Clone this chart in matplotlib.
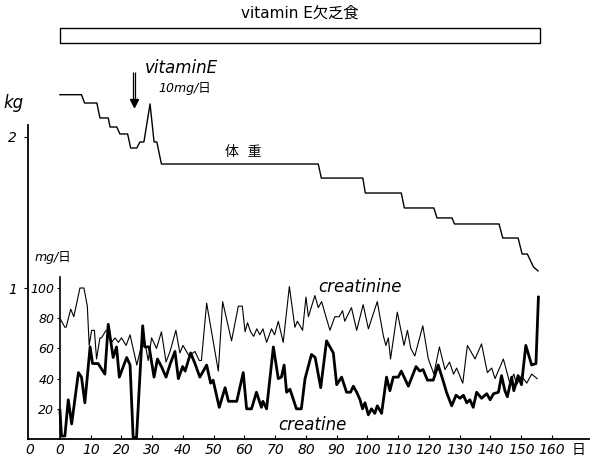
import numpy as np
import matplotlib
matplotlib.use('Agg')
import matplotlib.pyplot as plt
from matplotlib.patches import Rectangle

plt.rcParams['font.family'] = ['DejaVu Sans', 'Noto Sans CJK JP']

# body weight (kg), step line
weight_days = [0, 7, 8, 12, 13, 15.7, 16.3, 18.5, 19.5, 22, 23, 25, 26, 27.3,
               29.3, 30.6, 31.5, 33, 84, 85, 98.5, 99.3, 111, 112, 121.6, 122.6,
               127.5, 128.3, 142.8, 144, 149, 150.3, 152, 154, 155.5]
weight_kg = [2.28, 2.28, 2.225, 2.225, 2.126, 2.126, 2.066, 2.066, 2.02, 2.02,
             1.927, 1.927, 1.967, 1.967, 2.219, 1.967, 1.967, 1.821, 1.821, 1.728,
             1.728, 1.629, 1.629, 1.53, 1.53, 1.464, 1.464, 1.424, 1.424, 1.331,
             1.331, 1.225, 1.225, 1.139, 1.113]

# creatinine (mg/day), thin line
crn_days = [0, 1.6, 2, 3.5, 4.5, 6.5, 7.8, 8.9, 9.5, 10.3, 11.2, 11.9, 13, 13.5,
            15, 15.7, 16.8, 17.9, 19, 20, 21.5, 22.8, 25, 26.5, 27.9, 28.7, 29.8,
            31.4, 33, 34.5, 35.8, 37.7, 39, 40, 42, 43.9, 45.3, 46, 47.7, 51.5,
            52.9, 55.8, 58, 59.3, 60.2, 61, 62, 63, 64, 65, 66, 67.2, 68.8, 69.8,
            71, 72.6, 74.6, 76.4, 77.2, 78.9, 80, 80.8, 82.9, 84, 85.1, 86.5,
            87.8, 89.4, 90.8, 91.9, 92.6, 94.8, 96.5, 98.6, 100.3, 103.2, 105.2,
            106, 106.8, 107.5, 109.7, 111.9, 113, 114.1, 115.4, 118, 119.8, 121.6,
            123.4, 125.2, 126.7, 128, 129, 131, 132.5, 135, 137.1, 139, 140.4,
            141.5, 144.2, 146.3, 147.6, 148.5, 150.1, 151.8, 153.4, 155.2]
crn_mg = [80, 74, 74, 86, 81, 100, 100, 88, 62, 72, 72, 53, 67, 67,
          72, 72, 64, 67, 64, 67, 62, 69, 49, 62, 61, 52, 67,
          60, 71, 51, 58, 72, 57, 62, 55, 58, 52, 52, 90, 45,
          91, 65, 88, 88, 71, 77, 71, 68, 73, 69, 73, 64, 73, 69,
          78, 64, 101, 74, 78, 72, 94, 81, 95, 87, 91, 81,
          72, 81, 81, 85, 78, 87, 72, 89, 73, 91, 68,
          62, 67, 53, 84, 62, 72, 60, 55, 75, 53, 43,
          61, 46, 51, 43, 47, 37, 62, 53, 63, 44, 47,
          40, 53, 37, 43, 36, 42, 37, 43, 40]

# creatine (mg/day), thick line
cr_days = [0, 0.5, 1.6, 2.7, 3.8, 6, 7, 8.1, 9.8, 10.6, 12.4, 14.6, 15.7, 17.3,
           18.4, 19.3, 21.7, 22.8, 23.8, 24.9, 26.9, 27.6, 29, 30.6, 31.7, 33,
           34.5, 35.9, 37.4, 38.5, 39.9, 40.7, 42.5, 43.9, 45.5, 47.7, 49, 49.8,
           51.8, 53.7, 54.8, 57.5, 59.6, 60.7, 62.3, 63.9, 65.5, 66, 67.2, 69.4,
           71, 72, 72.9, 73.7, 74.8, 76.9, 78.5, 79.7, 81.8, 83, 84.8, 86.7, 88.9,
           90, 91.6, 93.2, 94.5, 95.4, 96.5, 97.6, 98.4, 99.2, 100.3, 101.3,
           102.4, 103.2, 104.6, 106.2, 107.3, 108.4, 110, 111, 113.3, 115.8, 117,
           118.1, 119.5, 121.4, 123, 124.7, 125.7, 127.4, 128.8, 130.1, 131.2,
           132.3, 133.3, 134.4, 135.5, 137.1, 138.8, 139.9, 141, 142.6, 143.6,
           144.7, 145.5, 146.9, 147.6, 149, 150.1, 151.5, 153.4, 154.8, 155.6]
cr_mg = [19, 2, 2, 26, 10, 44, 41, 24, 61, 50, 50, 43, 76, 54,
         61, 41, 54, 49, 1, 1, 75, 61, 61, 41, 53, 48,
         41, 50, 58, 40, 48, 45, 57, 50, 41, 49, 37, 39,
         21, 34, 25, 25, 44, 20, 20, 31, 21, 25, 20, 61,
         40, 41, 49, 31, 33, 20, 20, 40, 56, 54, 34, 65, 57,
         36, 41, 31, 31, 35, 31, 26, 20, 24, 16, 20,
         17, 22, 17, 41, 32, 41, 41, 45, 35, 48, 45,
         46, 39, 39, 49, 38, 31, 22, 29, 27, 29,
         24, 26, 21, 31, 27, 30, 26, 30, 31, 42,
         32, 28, 41, 32, 42, 36, 62, 49, 50, 94]

x_ticks = list(range(0, 170, 10))
kg_ticks = [1, 2]
mg_ticks = [20, 40, 60, 80, 100]
diet_start, diet_end = 0, 156
vitE_day = 24

fig = plt.figure(figsize=(5.91, 4.62), dpi=100)
ax = fig.add_axes([0, 0, 1, 1])
ax.set_xlim(-19.5, 172.7)
ax.set_ylim(-0.152, 2.907)

kg_axis_x = -10.4
ax.spines['top'].set_visible(False)
ax.spines['right'].set_visible(False)
ax.spines['left'].set_position(('data', kg_axis_x))
ax.spines['left'].set_bounds(0, 2.08)
ax.spines['bottom'].set_position(('data', 0))
ax.spines['bottom'].set_bounds(kg_axis_x, 172)
for s in ax.spines.values():
    s.set_linewidth(1.3)

ax.set_xticks(x_ticks)
ax.set_xticklabels([str(t) for t in x_ticks], fontstyle='italic', fontsize=10)
ax.tick_params(axis='x', direction='in', length=3, pad=3)
ax.set_yticks(kg_ticks)
ax.set_yticklabels([str(t) for t in kg_ticks], fontstyle='italic', fontsize=10)
ax.tick_params(axis='y', direction='out', length=3, pad=5)

ax.plot(weight_days, weight_kg, color='black', lw=1.0)

ax2 = ax.twinx()
ax2.set_ylim(-15.2, 290.7)
ax2.spines['top'].set_visible(False)
ax2.spines['right'].set_visible(False)
ax2.spines['bottom'].set_visible(False)
ax2.spines['left'].set_visible(True)
ax2.spines['left'].set_position(('data', 0))
ax2.spines['left'].set_bounds(0, 107)
ax2.spines['left'].set_linewidth(1.2)
ax2.yaxis.set_ticks_position('left')
ax2.set_yticks(mg_ticks)
ax2.set_yticklabels([str(t) for t in mg_ticks], fontstyle='italic', fontsize=9)
ax2.tick_params(axis='y', direction='out', length=2, pad=2)

ax2.plot(crn_days, crn_mg, color='black', lw=0.8)
ax2.plot(cr_days, cr_mg, color='black', lw=2.0)

# diet bar
ax.add_patch(Rectangle((diet_start, 2.623), diet_end - diet_start, 0.099,
                       fill=False, edgecolor='black', lw=1.0))
ax.text((diet_start + diet_end) / 2, 2.82, 'vitamin E欠乏食', ha='center', va='center',
        fontsize=11)

# vitamin E arrow
ax.vlines([vitE_day - 0.35, vitE_day + 0.35], 2.24, 2.43, color='black', lw=0.9)
ax.plot([vitE_day], [2.225], marker='v', color='black', markersize=6)
ax.text(27.5, 2.457, 'vitaminE', fontsize=12, fontstyle='italic', va='center')
ax.text(32, 2.32, '10mg/日', fontsize=9, fontstyle='italic', va='center')

ax.text(-18.5, 2.225, 'kg', fontsize=12, fontstyle='italic', va='center')
ax.text(-9.8, -0.075, '0', fontsize=10, fontstyle='italic', va='center', ha='center')
ax.text(168.5, -0.075, '日', fontsize=10, va='center', ha='center')
ax.text(53.7, 1.9, '体  重', fontsize=10, va='center')

ax2.text(-8.3, 120, 'mg/日', fontsize=9, fontstyle='italic', va='center')
ax2.text(84, 101, 'creatinine', fontsize=12, fontstyle='italic', va='center')
ax2.text(71, 9, 'creatine', fontsize=12, fontstyle='italic', va='center')

fig.savefig('out.png', dpi=100)
